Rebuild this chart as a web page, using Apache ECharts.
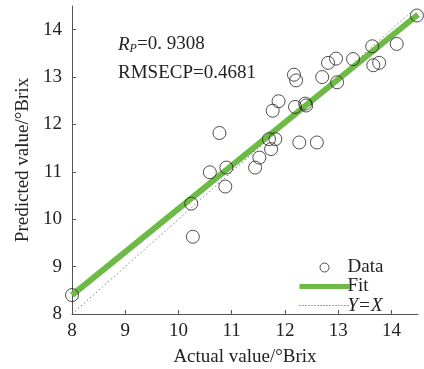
<!DOCTYPE html>
<html>
<head>
<meta charset="utf-8">
<script src="https://cdn.jsdelivr.net/npm/echarts@6/dist/echarts.min.js"></script>
<style>
  html, body { margin: 0; padding: 0; background: #fff; }
  #chart { width: 424px; height: 369px; }
</style>
</head>
<body>
<div id="chart"></div>
<script>
var actual = [8.00, 10.24, 10.27, 10.59, 10.77, 10.90, 10.88, 11.44, 11.52, 11.70,
  11.82, 11.74, 11.77, 11.88, 12.19, 12.27, 12.60, 12.38, 12.40, 12.17,
  12.21, 12.70, 12.81, 12.96, 12.98, 13.28, 13.64, 13.66, 13.77, 14.10, 14.48];
var predicted = [8.40, 10.33, 9.63, 10.99, 11.82, 11.09, 10.69, 11.09, 11.30, 11.69,
  11.69, 11.48, 12.29, 12.49, 12.37, 11.62, 11.62, 12.44, 12.40, 13.05,
  12.93, 13.00, 13.30, 13.39, 12.89, 13.38, 13.65, 13.25, 13.30, 13.70, 14.30];
// fitted line end points
var fitX = [8.0, 14.5];
var fitY = [8.40, 14.32];
// identity line
var idX = [8.0, 14.45];
var idY = [8.0, 14.45];
var tickLabels = [8, 9, 10, 11, 12, 13, 14];

var FONT = "'Liberation Serif', 'Times New Roman', serif";

var chart = echarts.init(document.getElementById('chart'));

var scatterData = actual.map(function (x, i) { return [x, predicted[i]]; });
var fitData = fitX.map(function (x, i) { return [x, fitY[i]]; });
var idData = idX.map(function (x, i) { return [x, idY[i]]; });

var axisCommon = {
  type: 'value',
  min: 8,
  max: 14.5,
  interval: 1,
  splitLine: { show: false },
  axisLine: { show: true, lineStyle: { color: '#555', width: 1 } },
  axisTick: { show: true, inside: true, length: 4, lineStyle: { color: '#555' }, customValues: tickLabels },
  axisLabel: { color: '#222', fontFamily: FONT, fontSize: 19, customValues: tickLabels },
  nameLocation: 'middle',
  nameTextStyle: { color: '#222', fontFamily: FONT, fontSize: 19 }
};

var option = {
  animation: false,
  grid: { left: 72, right: 6, top: 6, bottom: 55, outerBoundsMode: 'none' },
  xAxis: echarts.util.merge({
    name: 'Actual value/°Brix',
    nameGap: 34,
    axisLabel: { margin: 8 }
  }, axisCommon),
  yAxis: echarts.util.merge({
    name: 'Predicted value/°Brix',
    nameGap: 38,
    axisLabel: { margin: 10 }
  }, axisCommon),
  legend: {
    orient: 'vertical',
    left: 292,
    top: 253,
    itemWidth: 50,
    itemHeight: 9,
    itemGap: 0,
    textStyle: { color: '#222', fontFamily: FONT, fontSize: 19, lineHeight: 18, padding: [0, 0, 0, -7] },
    data: [
      { name: 'Data', itemStyle: { borderWidth: 1 } },
      { name: 'Fit', itemStyle: { opacity: 0 }, lineStyle: { width: 5 } },
      { name: 'Y=X', itemStyle: { opacity: 0 }, lineStyle: { width: 1, type: [1, 2] }, textStyle: { fontStyle: 'italic' } }
    ]
  },
  graphic: [
    {
      type: 'text',
      left: 118,
      top: 35,
      style: {
        text: '{i|R}{s|P}{n|=0. 9308}',
        rich: {
          i: { fontFamily: FONT, fontSize: 19, fontStyle: 'italic', fill: '#222' },
          s: { fontFamily: FONT, fontSize: 12, fontStyle: 'italic', fill: '#222', verticalAlign: 'bottom', padding: [8, 0, 0, 0] },
          n: { fontFamily: FONT, fontSize: 19, fill: '#222' }
        }
      }
    },
    {
      type: 'text',
      left: 118,
      top: 64,
      style: { text: 'RMSECP=0.4681', fontFamily: FONT, fontSize: 19, fill: '#222' }
    }
  ],
  series: [
    {
      name: 'Y=X',
      type: 'line',
      data: idData,
      symbol: 'none',
      z: 1,
      lineStyle: { color: '#444', width: 1, type: [1, 3] },
      itemStyle: { color: '#444' }
    },
    {
      name: 'Fit',
      type: 'line',
      data: fitData,
      symbol: 'none',
      z: 2,
      lineStyle: { color: '#6dbb46', width: 6 },
      itemStyle: { color: '#6dbb46' }
    },
    {
      name: 'Data',
      type: 'scatter',
      data: scatterData,
      symbol: 'circle',
      symbolSize: 13,
      z: 3,
      itemStyle: { color: 'rgba(0,0,0,0)', borderColor: '#222', borderWidth: 1 }
    }
  ]
};

chart.setOption(option);
</script>
</body>
</html>
